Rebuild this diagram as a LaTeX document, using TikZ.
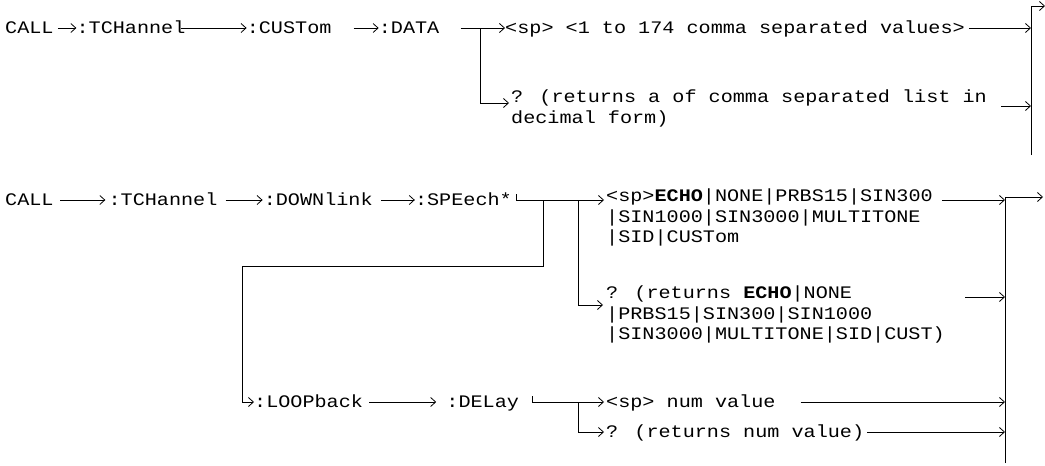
\documentclass[tikz,border=0pt]{standalone}
\usepackage{fontspec}
\newfontfamily\scpifont[FakeStretch=1.145]{Liberation Mono}
\usetikzlibrary{positioning,arrows.meta}
\tikzset{
  >={Straight Barb[length=5pt,width=9pt]},
  cmd/.style={font=\scpifont\fontsize{17.6}{20.5}\selectfont,inner sep=0pt,
    text height=13pt,text depth=3pt},
  vals/.style={font=\scpifont\fontsize{17.6}{20.5}\selectfont,inner sep=0pt,
    align=left,anchor=base west},
  flow/.style={->,line width=0.8pt},
  wire/.style={line width=0.8pt},
}

\begin{document}
\begin{tikzpicture}[x=1pt,y=-1pt]
  \useasboundingbox (0,0) rectangle (1045,466);
  % CALL:TCHannel:CUSTom:DATA
  \node[cmd,anchor=west] (call1) at (5,28) {CALL};
  \node[cmd,right=22.6pt of call1] (tch1) {:TCHannel};
  \node[cmd,right=61pt of tch1] (cus1) {:CUSTom};
  \node[cmd,right=47pt of cus1] (data1) {:DATA};
  \node[cmd,right=65.5pt of data1] (vals1) {<sp> <1 to 174 comma separated values>};
  \node[vals] (ret1) at (511,123.3) {? (returns a of comma separated list in\\decimal form)};
  \coordinate (j1) at (480,28);
  \coordinate (bar1t) at (1031,6);
  \coordinate (bar1b) at (1031,155);
  \coordinate (out1) at (1045,6);
  \coordinate (r1o) at ([yshift=17.3pt]ret1.base east);

  \draw[flow] ([xshift=4pt]call1.east) -- (tch1.west);
  \draw[flow] ([xshift=-5pt]tch1.east) -- (cus1.west);
  \draw[flow] ([xshift=22pt]cus1.east) -- (data1.west);
  \draw[flow] ([xshift=21pt]data1.east) -- (vals1.west);
  \draw[flow] (j1) |- ([xshift=-2pt,yshift=20.3pt]ret1.base west);
  \draw[flow] ([xshift=4pt]vals1.east) -- (vals1.east -| bar1t);
  \draw[flow] ([xshift=14pt]r1o) -- (r1o -| bar1t);
  \draw[wire] (bar1b) -- (bar1t);
  \draw[flow] (bar1t) -- (out1);

  % CALL:TCHannel:DOWNlink:SPEech / :LOOPback:DELay
  \node[cmd,anchor=west] (call2) at (5,200) {CALL};
  \node[cmd,right=54.6pt of call2] (tch2) {:TCHannel};
  \node[cmd,right=46pt of tch2] (down2) {:DOWNlink};
  \node[cmd,right=42pt of down2] (spe2) {:SPEech*};
  \node[vals] (echo2) at (606,242.8) {<sp>\textbf{ECHO}|NONE|PRBS15|SIN300\\|SIN1000|SIN3000|MULTITONE\\|SID|CUSTom};
  \node[vals] (ret2) at (606,339.8) {? (returns \textbf{ECHO}|NONE\\|PRBS15|SIN300|SIN1000\\|SIN3000|MULTITONE|SID|CUST)};
  \node[cmd,anchor=west] (loop3) at (254,402) {:LOOPback};
  \node[cmd,right=83pt of loop3] (del3) {:DELay};
  \node[cmd,anchor=west] (num3) at (606,402) {<sp> num value};
  \node[cmd,anchor=west] (numq3) at (606,432) {? (returns num value)};
  \coordinate (j2a) at (543,200);
  \coordinate (j2b) at (578,200);
  \coordinate (t2) at ([xshift=4pt]spe2.east);
  \coordinate (t3) at ([xshift=13pt]del3.east);
  \coordinate (j3) at (578,402);
  \coordinate (bar2t) at (1005,197);
  \coordinate (bar2b) at (1005,463);
  \coordinate (out2) at (1043,197);
  \coordinate (e2o) at ([yshift=42.8pt]echo2.base east);
  \coordinate (r2o) at ([yshift=42.8pt]ret2.base east);

  \draw[flow] ([xshift=6.5pt]call2.east) -- ([xshift=-3pt]tch2.west);
  \draw[flow] ([xshift=8pt]tch2.east) -- ([xshift=-1pt]down2.west);
  \draw[flow] ([xshift=8pt]down2.east) -- (spe2.west);
  \draw[flow,shorten >=2pt] ([yshift=6pt]t2) -- (t2) -- (t2 -| echo2.base west);
  \draw[flow] (j2a) -- ++(0,66) -| ([xshift=-12pt]loop3.west) -- (loop3.west);
  \draw[flow] (j2b) |- ([xshift=-3pt,yshift=34.8pt]ret2.base west);
  \draw[flow] ([xshift=6pt]loop3.east) -- ([xshift=-10pt]del3.west);
  \draw[flow,shorten >=2pt] ([yshift=6pt]t3) -- (t3) -- (t3 -| num3.west);
  \draw[flow] (j3) |- ([xshift=-2pt]numq3.west);
  \draw[flow] ([xshift=9pt]e2o) -- (e2o -| bar2t);
  \draw[flow] ([xshift=20pt]r2o) -- (r2o -| bar2t);
  \draw[flow] ([xshift=25pt]num3.east) -- (num3.east -| bar2t);
  \draw[flow] ([xshift=3pt]numq3.east) -- (numq3.east -| bar2t);
  \draw[wire] (bar2b) -- (bar2t);
  \draw[flow] (bar2t) -- (out2);
\end{tikzpicture}
\end{document}
